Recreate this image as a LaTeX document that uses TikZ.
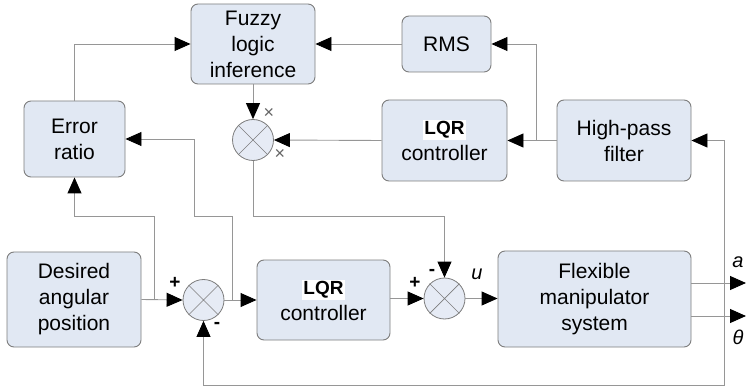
\documentclass[tikz,border=0pt]{standalone}
\usepackage{fontspec}
\setmainfont{Liberation Sans}
\usetikzlibrary{arrows.meta,calc}
\definecolor{boxfill}{RGB}{225,232,243}
\definecolor{sumfill}{RGB}{230,235,245}
\definecolor{boxline}{RGB}{125,125,125}
\definecolor{wirec}{RGB}{150,150,150}
\begin{document}
\begin{tikzpicture}[x=1pt,y=-1pt,
 blk/.style={draw=boxline,fill=boxfill,rounded corners=7pt,line width=0.9pt,align=center,font=\fontsize{21}{26}\selectfont,inner sep=0pt},
 sumc/.style={circle,draw=boxline,fill=sumfill,line width=0.8pt,minimum size=41pt,inner sep=0pt},
 wire/.style={draw=wirec,line width=0.9pt},
 arr/.style={wire,-{Triangle[length=16pt,width=14pt,color=black]}},
 lbl/.style={inner sep=0pt,font=\fontsize{19}{20}\selectfont\bfseries},
 ilbl/.style={inner sep=0pt,font=\fontsize{20}{22}\selectfont\itshape},
 xlbl/.style={inner sep=0pt,font=\fontsize{18}{20}\selectfont,text=boxline!80!black},
]
\useasboundingbox (0,0) rectangle (747,390);
\fboxsep=1.5pt
% blocks
\node[blk,minimum width=124pt,minimum height=80pt] (fuzzy) at (253,44) {Fuzzy\\logic\\inference};
\node[blk,minimum width=101pt,minimum height=76pt] (err) at (74.5,139) {Error\\ratio};
\node[blk,minimum width=89pt,minimum height=56pt] (rms) at (446.5,44) {RMS};
\node[blk,minimum width=125pt,minimum height=81pt] (lqrt) at (444.5,140.5) {\colorbox{white}{\fontsize{19}{22}\selectfont\bfseries LQR}\\controller};
\node[blk,minimum width=134pt,minimum height=81pt] (hp) at (624,140.5) {High-pass\\filter};
\node[blk,minimum width=134pt,minimum height=95pt] (des) at (74,299.5) {Desired\\angular\\position};
\node[blk,minimum width=133pt,minimum height=80pt] (lqrb) at (323.5,300) {\colorbox{white}{\fontsize{19}{22}\selectfont\bfseries LQR}\\controller};
\node[blk,minimum width=193pt,minimum height=96pt] (flex) at (594.5,299) {Flexible\\manipulator\\system};
% summing junctions
\node[sumc] (s1) at (203.5,300) {};
\node[sumc] (s2) at (444.5,298.5) {};
\node[sumc] (mult) at (253,140) {};
\foreach \n in {s1,s2,mult}{
  \draw[boxline,line width=0.7pt] (\n.north east) -- (\n.south west) (\n.north west) -- (\n.south east);
}
% junction coordinates
\coordinate (hpj) at (536,140.5);
\coordinate (rtop) at (724,140.5);
\coordinate (rbot) at (724,385);
\coordinate (j1) at (154,300);
\coordinate (j1u) at (154,216);
\coordinate (j2) at (232,300);
\coordinate (j2u) at (232,216);
\coordinate (j2l) at (194,216);
\coordinate (j2t) at (194,139);
\coordinate (mb) at (253,216);
\coordinate (aout) at (746,283);
\coordinate (tout) at (746,316);
% connectors
\draw[arr] (err.north) |- (fuzzy.west);
\draw[arr] (rms.west) -- (fuzzy.east);
\draw[arr] (fuzzy.south) -- (mult.north);
\draw[arr] (hp.west) -- (lqrt.east);
\draw[arr] (hpj) |- (rms.east);
\draw[arr] (lqrt.west) -- (mult.east);
\draw[arr] (rtop) -- (hp.east);
\draw[arr] (rtop) -- (rbot) -| (s1.south);
\draw[arr] (flex.east |- aout) -- (aout);
\draw[arr] (flex.east |- tout) -- (tout);
\draw[arr] (des.east) -- (s1.west);
\draw[arr] (j1) -- (j1u) -| (err.south);
\draw[arr] (s1.east) -- (lqrb.west);
\draw[arr] (j2) -- (j2u) -- (j2l) -- (j2t) -- (err.east);
\draw[arr] (mult.south) -- (mb) -| (s2.north);
\draw[arr] (lqrb.east |- s2.west) -- (s2.west);
\draw[arr] (s2.east) -- (flex.west |- s2.east);
% labels
\node[lbl] (p1) at (175,283) {+};
\node[lbl] (m1) at (217,325) {-};
\node[lbl] (p2) at (415,283) {+};
\node[lbl] (m2) at (432,272) {-};
\node[ilbl] (u) at (477,274) {u};
\node[ilbl] (alab) at (738,262) {a};
\node[ilbl] (tlab) at (738,337) {θ};
\node[xlbl] (x1) at (269,113) {×};
\node[xlbl] (x2) at (280,154) {×};
\end{tikzpicture}
\end{document}
